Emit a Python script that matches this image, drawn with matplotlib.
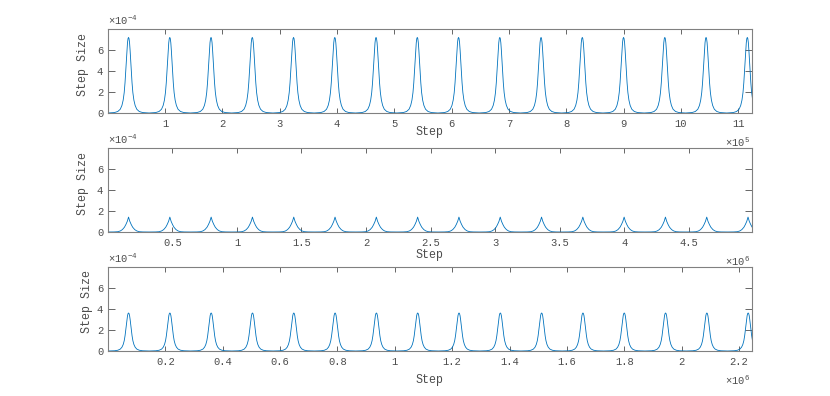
import numpy as np
import matplotlib
matplotlib.use('Agg')
import matplotlib.pyplot as plt

plt.rcParams['font.family'] = ['Liberation Mono', 'DejaVu Sans Mono']
plt.rcParams['mathtext.fontset'] = 'custom'
plt.rcParams['mathtext.rm'] = 'Liberation Mono'
plt.rcParams['mathtext.it'] = 'Liberation Mono'

# peak centres (step), one list per panel
picos_1 = [0.36e5, 1.08e5, 1.80e5, 2.52e5, 3.24e5, 3.96e5, 4.68e5, 5.40e5,
           6.12e5, 6.84e5, 7.56e5, 8.28e5, 9.00e5, 9.72e5, 10.44e5, 11.16e5]
picos_2 = [0.16e6, 0.48e6, 0.80e6, 1.12e6, 1.44e6, 1.76e6, 2.08e6, 2.40e6,
           2.72e6, 3.04e6, 3.36e6, 3.68e6, 4.00e6, 4.32e6, 4.64e6, 4.96e6]
picos_3 = [0.072e6, 0.216e6, 0.360e6, 0.504e6, 0.648e6, 0.792e6, 0.936e6, 1.080e6,
           1.224e6, 1.368e6, 1.512e6, 1.656e6, 1.800e6, 1.944e6, 2.088e6, 2.232e6]

# peak heights
altura_1 = 7.2e-4
altura_2 = 1.42e-4
altura_3 = 3.62e-4

# x limits
xmax_1 = 1.124e6
xmax_2 = 4.99e6
xmax_3 = 2.245e6

# shape of one peak: offset (fraction of spacing) -> relative height
perfil_pontiagudo_dx = [-0.5, -0.34, -0.26, -0.2, -0.16, -0.13, -0.105, -0.085, -0.068, -0.052, -0.038, -0.025, -0.012, 0.0,
                        0.012, 0.025, 0.038, 0.052, 0.068, 0.085, 0.105, 0.13, 0.16, 0.2, 0.26, 0.34, 0.5]
perfil_pontiagudo_y = [0.0, 0.006, 0.02, 0.05, 0.1, 0.17, 0.27, 0.4, 0.55, 0.7, 0.83, 0.93, 0.985, 1.0,
                       0.985, 0.93, 0.83, 0.7, 0.55, 0.4, 0.27, 0.17, 0.1, 0.05, 0.02, 0.006, 0.0]
perfil_cuspide_dx = [-0.5, -0.35, -0.26, -0.2, -0.15, -0.1, -0.065, -0.03, 0.0,
                     0.03, 0.065, 0.1, 0.15, 0.2, 0.26, 0.35, 0.5]
perfil_cuspide_y = [0.0, 0.004, 0.02, 0.07, 0.16, 0.32, 0.5, 0.72, 1.0,
                    0.72, 0.5, 0.32, 0.16, 0.07, 0.02, 0.004, 0.0]

yticks = [0, 2e-4, 4e-4, 6e-4]
xticks_1 = [1e5, 2e5, 3e5, 4e5, 5e5, 6e5, 7e5, 8e5, 9e5, 10e5, 11e5]
xticks_2 = [0.5e6, 1e6, 1.5e6, 2e6, 2.5e6, 3e6, 3.5e6, 4e6, 4.5e6]
xticks_3 = [0.2e6, 0.4e6, 0.6e6, 0.8e6, 1.0e6, 1.2e6, 1.4e6, 1.6e6, 1.8e6, 2.0e6, 2.2e6]

azul = '#0072bd'
cinza = '#4d4d4d'


def monta_serie(picos, altura, dx, py):
    passo = np.mean(np.diff(picos))
    dx = np.array(dx)
    py = np.array(py)
    xs = np.concatenate([c + dx * passo for c in picos])
    ys = np.concatenate([altura * py for c in picos])
    return xs, ys


def fmt_num(v):
    s = ('%.1f' % v)
    if s.endswith('.0'):
        s = s[:-2]
    return s


fig = plt.figure(figsize=(8.3, 3.96), dpi=100)

paineis = [
    (picos_1, altura_1, perfil_pontiagudo_dx, perfil_pontiagudo_y, xmax_1, xticks_1, 5,
     [0.130, 1 - 113 / 396], 19.5, (-0.039, 0.583)),
    (picos_2, altura_2, perfil_cuspide_dx, perfil_cuspide_y, xmax_2, xticks_2, 6,
     [0.130, 1 - 232 / 396], 23.3, (-0.039, 0.583)),
    (picos_3, altura_3, perfil_pontiagudo_dx, perfil_pontiagudo_y, xmax_3, xticks_3, 6,
     [0.130, 1 - 351 / 396], 29.5, (-0.032, 0.589)),
]

ax_h = 84 / 396
ax_w = 644 / 830

for picos, altura, dx, py, xmax, xt, expo, pos, dist_label, ycoords in paineis:
    ax = fig.add_axes([pos[0], pos[1], ax_w, ax_h])
    xs, ys = monta_serie(picos, altura, dx, py)
    ax.plot(xs, ys, color=azul, linewidth=0.6, clip_on=True)
    ax.set_xlim(0, xmax)
    ax.set_ylim(0, 8e-4)
    ax.set_yticks(yticks)
    ax.set_yticklabels([fmt_num(v / 1e-4) for v in yticks])
    ax.set_xticks(xt)
    ax.set_xticklabels([fmt_num(v / 10 ** expo) for v in xt])
    ax.tick_params(axis='both', direction='in', top=True, right=True,
                   labelsize=7.6, colors=cinza, width=0.6)
    ax.tick_params(axis='x', length=3.5, pad=4.0)
    ax.tick_params(axis='y', length=4.8, pad=3.4)
    for sp in ax.spines.values():
        sp.set_color('#808080')
        sp.set_linewidth(0.8)

    ax.set_xlabel('Step', fontsize=8.4, color=cinza)
    ax.xaxis.label.set_va('center')
    ax.xaxis.set_label_coords(0.5, -dist_label / 84)
    ax.set_ylabel('Step Size', fontsize=8.4, color=cinza)
    ax.yaxis.label.set_va('center')
    ax.yaxis.set_label_coords(ycoords[0], ycoords[1])

    ax.text(0.0, 1 + 4.5 / 84, '×10$^{-4}$', transform=ax.transAxes,
            ha='left', va='baseline', fontsize=7.6, color=cinza)
    ax.text(1 - 2 / 644, -34 / 84, '×10$^{%d}$' % expo, transform=ax.transAxes,
            ha='right', va='baseline', fontsize=7.6, color=cinza)

fig.savefig('out.png', dpi=100)
